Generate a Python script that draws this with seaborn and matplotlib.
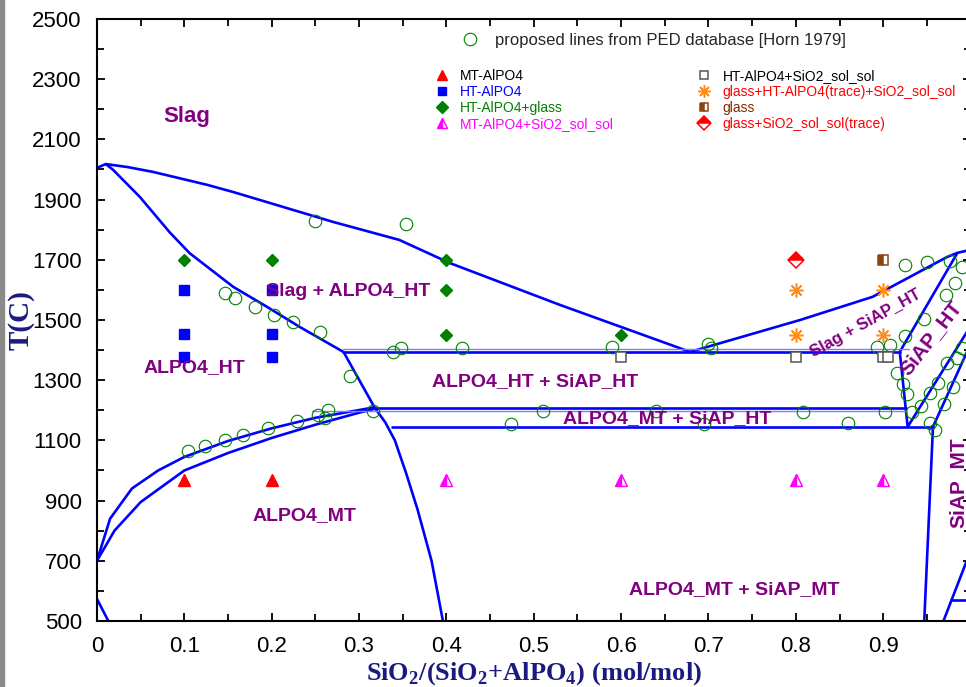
"""
AlPO4-SiO2 phase diagram: calculated boundaries, experimental points and
the PED database lines (Horn 1979).
"""

import numpy as np
import matplotlib
matplotlib.use("Agg")
import matplotlib.pyplot as plt
import seaborn as sns
from matplotlib.patches import Rectangle

# --- phase boundaries (x = SiO2 fraction, y = T in C) ---
liq_top_x = [0, 0.01, 0.035, 0.064, 0.126, 0.156, 0.186, 0.232, 0.27, 0.346, 0.404, 0.53, 0.679]
liq_top_y = [2005, 2018, 2008, 1992, 1949, 1925, 1899, 1859, 1826, 1766, 1689, 1550, 1394]
liq_ht_x = [0.01, 0.018, 0.049, 0.083, 0.106, 0.156, 0.195, 0.232, 0.282]
liq_ht_y = [2018, 2000, 1909, 1792, 1722, 1610, 1543, 1477, 1394]
liq_si_x = [0.679, 0.805, 0.888, 0.973, 0.985, 1.0]
liq_si_y = [1394, 1500, 1577, 1709, 1723, 1733]
sol_si_x = [0.919, 0.985]
sol_si_y = [1394, 1723]
tr_up_x = [0, 0.015, 0.04, 0.07, 0.1, 0.15, 0.2, 0.25, 0.318]
tr_up_y = [700, 840, 940, 1000, 1045, 1098, 1140, 1175, 1210]
tr_lo_x = [0, 0.02, 0.05, 0.1, 0.15, 0.2, 0.25, 0.3, 0.318]
tr_lo_y = [700, 800, 895, 1000, 1058, 1108, 1152, 1192, 1205]
mid_x = [0.282, 0.318, 0.33, 0.341, 0.354, 0.367, 0.383, 0.396]
mid_y = [1395, 1208, 1160, 1100, 990, 870, 700, 500]
right_a_x = [0.919, 0.928, 0.998]
right_a_y = [1394, 1145, 1470]
right_b_x = [1.0, 0.957, 0.947]
right_b_y = [1420, 1145, 500]
right_c_x = [0.969, 0.995, 1.0]
right_c_y = [500, 695, 712]
right_d_x = [0.976, 1.0]
right_d_y = [570, 570]
corner_x = [0, 0.013]
corner_y = [573, 500]
# invariant lines: (x start, x end, T)
inv_x0 = [0.282, 0.318, 0.338]
inv_x1 = [0.919, 0.926, 0.957]
inv_t = [1395, 1208, 1145]
# faint companion lines
faint_x0 = [0.282, 0.246]
faint_x1 = [0.93, 0.926]
faint_t = [1402, 1197]

# --- experimental points ---
mt_x = [0.1, 0.2]
mt_y = [970, 970]
ht_x = [0.1, 0.1, 0.1, 0.2, 0.2, 0.2]
ht_y = [1600, 1453, 1378, 1600, 1453, 1378]
htg_x = [0.1, 0.2, 0.4, 0.4, 0.4, 0.6]
htg_y = [1700, 1700, 1700, 1600, 1450, 1450]
mts_x = [0.4, 0.6, 0.8, 0.9]
mts_y = [970, 970, 970, 970]
hts_x = [0.6, 0.8, 0.9, 0.905]
hts_y = [1377, 1377, 1377, 1377]
gtr_x = [0.8, 0.8, 0.9, 0.9]
gtr_y = [1600, 1450, 1600, 1450]
glass_x = [0.9]
glass_y = [1700]
gss_x = [0.8]
gss_y = [1700]

# --- PED database points ---
ped_x = [0.250, 0.354, 0.147, 0.158, 0.181, 0.203, 0.224, 0.255, 0.290, 0.339,
         0.348, 0.418, 0.590, 0.700, 0.703, 0.104, 0.124, 0.147, 0.167, 0.196,
         0.229, 0.253, 0.261, 0.264, 0.316, 0.474, 0.511, 0.640, 0.695, 0.808,
         0.860, 0.902, 0.925, 0.950, 0.977, 0.990, 0.982, 0.972, 0.947, 0.925,
         0.893, 0.908, 0.990, 0.984, 0.973, 0.916, 0.923, 0.927, 0.933, 0.943,
         0.954, 0.963, 0.980, 0.970, 0.954, 0.959]
ped_y = [1829, 1819, 1590, 1573, 1543, 1517, 1493, 1460, 1314, 1394,
         1407, 1407, 1410, 1420, 1407, 1065, 1082, 1101, 1118, 1141,
         1165, 1185, 1175, 1201, 1198, 1155, 1198, 1198, 1155, 1195,
         1158, 1195, 1683, 1693, 1696, 1676, 1623, 1583, 1503, 1447,
         1410, 1417, 1407, 1374, 1357, 1324, 1287, 1254, 1194, 1214,
         1257, 1290, 1277, 1221, 1158, 1135]

# --- region labels ---
reg_names = ["Slag", "Slag + ALPO4_HT", "ALPO4_HT", "ALPO4_HT + SiAP_HT",
             "ALPO4_MT + SiAP_HT", "ALPO4_MT", "ALPO4_MT + SiAP_MT",
             "Slag + SiAP_HT", "SiAP_HT", "SiAP_MT"]
reg_x = [0.103, 0.287, 0.112, 0.501, 0.653, 0.238, 0.730, 0.880, 0.955, 0.986]
reg_y = [2175, 1593, 1341, 1297, 1174, 849, 603, 1490, 1440, 960]
reg_rot = [0, 0, 0, 0, 0, 0, 0, 29, 52, 90]
reg_size = [16, 14, 14, 14, 14, 14, 14, 12, 15, 15]

sns.set_theme(style="ticks")
plt.rcParams["font.family"] = ["Liberation Sans", "DejaVu Sans"]
plt.rcParams["mathtext.fontset"] = "custom"
plt.rcParams["mathtext.rm"] = "Liberation Serif:bold"
plt.rcParams["mathtext.bf"] = "Liberation Serif:bold"

BLUE = "#0000ff"
PURPLE = "#800080"
NAVY = "#1a1a80"
GREEN = "#008000"


def main():
    fig = plt.figure(figsize=(9.66, 6.87), dpi=100)
    fig.patch.set_facecolor("white")
    ax = fig.add_axes([0.1004, 0.0961, 0.9043, 0.8763])

    # boundaries
    lw = 1.9
    for xs, ys in [(liq_top_x, liq_top_y), (liq_ht_x, liq_ht_y), (liq_si_x, liq_si_y),
                   (sol_si_x, sol_si_y), (tr_up_x, tr_up_y), (tr_lo_x, tr_lo_y),
                   (mid_x, mid_y), (right_a_x, right_a_y), (right_b_x, right_b_y),
                   (right_c_x, right_c_y), (right_d_x, right_d_y), (corner_x, corner_y)]:
        ax.plot(xs, ys, color=BLUE, lw=lw, solid_capstyle="butt", zorder=2)
    for x0, x1, t in zip(faint_x0, faint_x1, faint_t):
        ax.plot([x0, x1], [t, t], color="#7f7fff", lw=1.0, zorder=2)
    for x0, x1, t in zip(inv_x0, inv_x1, inv_t):
        ax.plot([x0, x1], [t, t], color=BLUE, lw=lw, zorder=2)

    # PED points
    ped = ax.plot(ped_x, ped_y, ls="none", marker="o", ms=9, mfc="none",
                  mec=GREEN, mew=0.8, zorder=3)[0]

    # experimental points
    h_mt = ax.plot(mt_x, mt_y, ls="none", marker="^", ms=8, color="red", zorder=4)[0]
    h_ht = ax.plot(ht_x, ht_y, ls="none", marker="s", ms=6.5, color=BLUE, zorder=4)[0]
    h_htg = ax.plot(htg_x, htg_y, ls="none", marker="D", ms=6.5, color=GREEN, zorder=4)[0]
    h_mts = ax.plot(mts_x, mts_y, ls="none", marker="^", ms=8, color="magenta",
                    fillstyle="left", markerfacecoloralt="white", mew=1, zorder=4)[0]
    h_hts = ax.plot(hts_x, hts_y, ls="none", marker="s", ms=7, mfc="white",
                    mec="#555555", mew=1.1, zorder=4)[0]
    h_gtr = ax.plot(gtr_x, gtr_y, ls="none", marker=(8, 2, 0), ms=10, mec="#ff8c1a",
                    mew=1.1, zorder=4)[0]
    h_glass = ax.plot(glass_x, glass_y, ls="none", marker="s", ms=7, color="#8b4513",
                      fillstyle="left", markerfacecoloralt="white", mew=1.1, zorder=4)[0]
    h_gss = ax.plot(gss_x, gss_y, ls="none", marker="D", ms=8, color="red",
                    fillstyle="top", markerfacecoloralt="white", mew=1.1, zorder=4)[0]

    # region labels
    for name, x, y, rot, fs in zip(reg_names, reg_x, reg_y, reg_rot, reg_size):
        ax.text(x, y, name, color=PURPLE, fontsize=fs, fontweight="bold",
                rotation=rot, ha="center", va="center", zorder=5,
                rotation_mode="anchor")

    # legends
    leg1 = ax.legend([ped], ["proposed lines from PED database [Horn 1979]"],
                     loc="center left", bbox_to_anchor=(0.418, 0.965), frameon=False,
                     fontsize=12, handlelength=1.0, handletextpad=1.0,
                     borderaxespad=0, borderpad=0)
    ax.add_artist(leg1)
    labels = ["MT-AlPO4", "HT-AlPO4", "HT-AlPO4+glass", "MT-AlPO4+SiO2_sol_sol",
              "HT-AlPO4+SiO2_sol_sol", "glass+HT-AlPO4(trace)+SiO2_sol_sol",
              "glass", "glass+SiO2_sol_sol(trace)"]
    lcolors = ["black", BLUE, GREEN, "magenta", "black", "red", "#8b2500", "red"]
    handles = [h_mt, h_ht, h_htg, h_mts, h_hts, h_gtr, h_glass, h_gss]
    ax.legend(handles, labels, ncol=2, loc="upper left", bbox_to_anchor=(0.387, 0.917),
              frameon=False, fontsize=10, labelcolor=lcolors, handlelength=1.0,
              handletextpad=0.8, labelspacing=0.14, columnspacing=6.0,
              borderaxespad=0, borderpad=0, markerscale=0.9)

    # axes
    ax.set_xlim(0, 1.0)
    ax.set_ylim(500, 2500)
    ax.set_xticks(np.arange(0, 0.95, 0.1))
    ax.set_xticklabels(["0", "0.1", "0.2", "0.3", "0.4", "0.5", "0.6", "0.7", "0.8", "0.9"])
    ax.set_xticks(np.arange(0.05, 1.0, 0.1), minor=True)
    ax.set_yticks(np.arange(500, 2501, 200))
    ax.set_yticks(np.arange(600, 2500, 200), minor=True)
    ax.tick_params(which="both", direction="in", top=True, right=True, width=1.3,
                   color="black", labelsize=16, labelcolor="black")
    ax.tick_params(which="major", length=6, pad=11)
    ax.tick_params(which="minor", length=5)
    for sp in ax.spines.values():
        sp.set_linewidth(1.5)
        sp.set_color("black")
    ax.set_facecolor("white")
    ax.grid(False)

    ax.set_xlabel(r"SiO$_2$/(SiO$_2$+AlPO$_4$) (mol/mol)", fontsize=19,
                  fontfamily="Liberation Serif", fontweight="bold", color=NAVY, labelpad=2)
    ax.set_ylabel("T(C)", fontsize=21, fontfamily="Liberation Serif",
                  fontweight="bold", color=NAVY)
    ax.yaxis.set_label_coords(-0.072, 0.5)

    # grey frame remnant at left edge of the screenshot
    fig.add_artist(Rectangle((0, 0), 4 / 966, 1, transform=fig.transFigure,
                             color="#8a8a8a", zorder=0))

    fig.savefig("out.png", dpi=100)


if __name__ == "__main__":
    main()
